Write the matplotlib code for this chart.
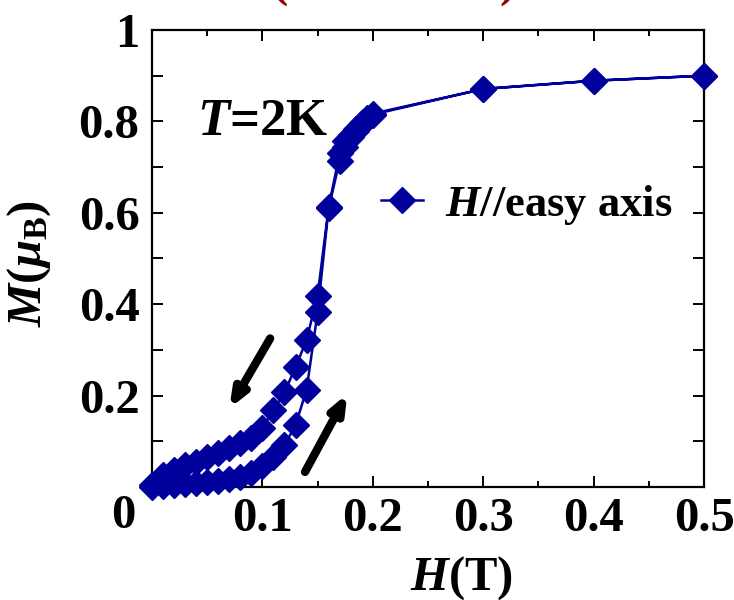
import matplotlib
matplotlib.use("Agg")
import matplotlib.pyplot as plt
from matplotlib.ticker import MultipleLocator, FixedLocator, FixedFormatter

plt.rcParams['font.family'] = ['Liberation Serif', 'DejaVu Serif']
plt.rcParams['font.weight'] = 'bold'
plt.rcParams['mathtext.fontset'] = 'custom'
plt.rcParams['mathtext.rm'] = 'Liberation Serif:bold'
plt.rcParams['mathtext.it'] = 'Liberation Serif:italic:bold'
plt.rcParams['mathtext.bf'] = 'Liberation Serif:bold'

# Field sweep up (lower branch)
H_up = [0.00, 0.01, 0.02, 0.03, 0.04, 0.05, 0.06, 0.07, 0.08, 0.09, 0.10,
        0.11, 0.12, 0.13, 0.14, 0.15, 0.16, 0.17, 0.175, 0.18, 0.185, 0.19, 0.195, 0.20,
        0.30, 0.40, 0.50]
M_up = [0.000, 0.003, 0.005, 0.007, 0.009, 0.011, 0.014, 0.017, 0.022, 0.030, 0.045,
        0.065, 0.092, 0.135, 0.213, 0.382, 0.610, 0.714, 0.745, 0.765, 0.780, 0.795, 0.805, 0.815,
        0.871, 0.889, 0.900]
# Field sweep down (upper branch)
H_down = [0.50, 0.40, 0.30, 0.20, 0.195, 0.19, 0.185, 0.18, 0.175, 0.17, 0.16, 0.15,
          0.14, 0.13, 0.12, 0.11, 0.10, 0.09, 0.08, 0.07, 0.06, 0.05, 0.04, 0.03,
          0.02, 0.01, 0.00]
M_down = [0.900, 0.889, 0.871, 0.817, 0.808, 0.797, 0.783, 0.770, 0.757, 0.730, 0.612, 0.419,
          0.322, 0.262, 0.207, 0.168, 0.130, 0.107, 0.096, 0.085, 0.074, 0.066, 0.055, 0.048,
          0.037, 0.026, 0.005]

H_all = H_up + H_down
M_all = M_up + M_down

x_ticks = [0.1, 0.2, 0.3, 0.4, 0.5]
x_tick_labels = ['0.1', '0.2', '0.3', '0.4', '0.5']
y_ticks = [0.2, 0.4, 0.6, 0.8, 1.0]
y_tick_labels = ['0.2', '0.4', '0.6', '0.8', '1']

blue = '#00009C'
FS = 35

fig = plt.figure(figsize=(7.34, 6.00), dpi=100)
ax = fig.add_axes([152/734, 1 - 487/600, 552/734, 457/600])

ax.plot(H_all, M_all, color=blue, lw=1.8, marker='D', ms=13.5, mfc=blue, mec=blue,
        clip_on=False, zorder=3, label=r'$H$//easy axis')

ax.set_xlim(0, 0.5)
ax.set_ylim(0, 1.0)

ax.xaxis.set_major_locator(FixedLocator(x_ticks))
ax.xaxis.set_major_formatter(FixedFormatter(x_tick_labels))
ax.xaxis.set_minor_locator(MultipleLocator(0.05))
ax.yaxis.set_major_locator(FixedLocator(y_ticks))
ax.yaxis.set_major_formatter(FixedFormatter(y_tick_labels))
ax.yaxis.set_minor_locator(MultipleLocator(0.1))

ax.tick_params(axis='both', which='both', direction='in', top=True, right=True, width=1.4,
               labelsize=FS)
ax.tick_params(axis='x', which='major', length=8, pad=7)
ax.tick_params(axis='x', which='minor', length=4)
ax.tick_params(axis='y', which='both', length=8, pad=9)
for s in ax.spines.values():
    s.set_linewidth(1.6)

for lab in ax.get_xticklabels() + ax.get_yticklabels():
    lab.set_fontweight('bold')

ax.text(-0.0525, -0.063, '0', transform=ax.transAxes, ha='center', va='center',
        fontsize=FS, fontweight='bold')

ax.set_xlabel(r'$H$(T)', fontsize=FS, fontweight='bold')
ax.xaxis.set_label_coords(0.56, -0.147)
ax.set_ylabel(r'$M$($\mu_{\rm B}$)', fontsize=FS, fontweight='bold')
ax.yaxis.set_label_coords(-0.18, 0.49)

ax.text(0.2, 0.798, r'$T$=2K', transform=ax.transAxes, ha='center', va='center',
        fontsize=38, fontweight='bold')

leg = ax.legend(loc='center left', bbox_to_anchor=(0.414, 0.617), frameon=False,
                fontsize=32, handlelength=0.95, handletextpad=0.5, borderpad=0,
                borderaxespad=0, markerscale=1.0)

# arrows
arrow_style = '-|>,head_length=1.0,head_width=0.4'
ax.annotate('', xy=(0.070, 0.172), xytext=(0.107, 0.325),
            arrowprops=dict(arrowstyle=arrow_style, color='black',
                            lw=6, shrinkA=0, shrinkB=0, capstyle='round'))
ax.annotate('', xy=(0.177, 0.204), xytext=(0.1386, 0.033),
            arrowprops=dict(arrowstyle=arrow_style, color='black',
                            lw=6, shrinkA=0, shrinkB=0, capstyle='round'))

# cropped red title remnants
fig.text(280/734, 1 + 3/600, '(', color='#990000', fontsize=FS, fontweight='bold',
         ha='center', va='baseline')
fig.text(507/734, 1 + 3/600, ')', color='#990000', fontsize=FS, fontweight='bold',
         ha='center', va='baseline')

fig.savefig('out.png', dpi=100)
